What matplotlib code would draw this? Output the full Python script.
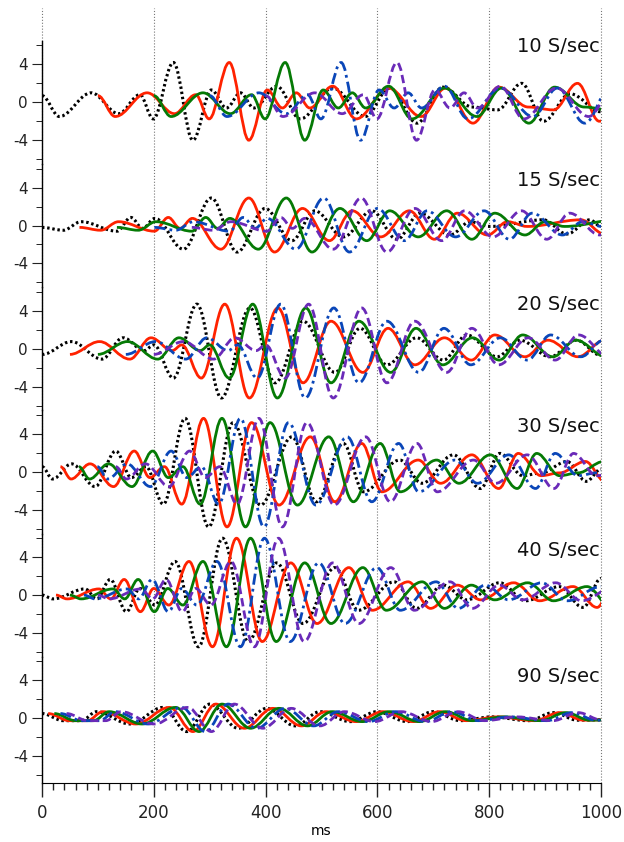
import matplotlib.pyplot as plt
from matplotlib.path import Path
from matplotlib.patches import PathPatch

plt.rcParams['axes.unicode_minus'] = False

# stacked panels, one per sample rate; each trace is the same wave delayed by one sample
labels = ['10 S/sec', '15 S/sec', '20 S/sec', '30 S/sec', '40 S/sec', '90 S/sec']
delays = [100, 67, 50, 33, 25, 11]   # ms between successive traces

# peaks / troughs of the first (black) trace
t10 = [0, 31, 88, 137, 175, 199, 235, 270, 303, 330, 355, 379, 420, 462, 520, 578, 622, 671, 717, 770, 815, 858, 897, 945, 1000]
v10 = [0.7, -1.5, 1.0, -1.2, 0.8, -1.75, 4.2, -4.0, 1.3, -0.6, 1.0, -0.6, 1.7, -1.75, 1.5, -1.5, 1.5, -2.2, 1.6, -0.5, -0.8, 2.0, -2.0, 0.9, -1.0]

t15 = [0, 38, 70, 134, 159, 180, 202, 253, 303, 349, 399, 447, 488, 539, 590, 635, 676, 730, 766, 801, 897, 939, 980, 1000]
v15 = [-0.2, -0.5, 0.4, -0.6, 0.85, -0.3, 0.75, -2.5, 2.9, -2.8, 1.8, -1.6, 1.55, -1.2, 1.55, -1.45, 1.3, -1.0, 0.4, -0.1, 0.6, -0.9, 0.6, -0.1]

t20 = [0, 53, 107, 145, 183, 200, 235, 277, 321, 372, 417, 467, 524, 569, 617, 670, 718, 760, 814, 855, 909, 956, 1000]
v20 = [-0.6, 0.75, -1.1, 1.15, -0.2, 0.4, -3.1, 4.7, -5.2, 4.3, -3.6, 2.9, -2.5, 2.15, -1.7, 1.15, -1.2, 1.45, -0.85, 0.9, -0.85, 0.9, -0.7]

t30 = [0, 19, 53, 95, 132, 160, 186, 217, 256, 298, 342, 391, 447, 491, 539, 575, 640, 680, 736, 784, 819, 860, 893, 939, 974, 1000]
v30 = [0.55, -0.75, 0.85, -1.55, 2.2, -0.6, 0.55, -3.4, 5.65, -5.8, 5.2, -3.5, 3.7, -3.15, 3.0, -2.1, 1.25, -1.2, 1.8, -1.75, 1.95, -0.4, -0.1, 1.1, -1.0, 0.3]

t40 = [0, 20, 77, 98, 122, 151, 175, 202, 238, 280, 323, 369, 420, 467, 524, 566, 630, 670, 718, 760, 819, 865, 925, 968, 1000]
v40 = [0, -0.4, 0.65, -0.4, 1.65, -1.75, 0.7, -1.05, 3.55, -5.45, 6.0, -4.9, 3.4, -3.0, 2.9, -1.6, 1.4, -1.4, 1.05, -0.5, 1.3, -0.6, 0.9, -1.3, 1.75]

t90 = [0, 38, 70, 98, 157, 217, 259, 300, 351, 402, 453, 497, 551, 599, 653, 700, 748, 805, 870, 915, 958, 1000]
v90 = [0.5, -0.25, -0.25, 0.7, -0.6, 1.15, -1.4, 1.5, -1.05, 1.05, -0.8, 0.7, -0.35, 0.7, -0.35, 0.7, -0.25, 0.15, -0.25, 0.6, -0.2, -0.15]

waves = [(t10, v10), (t15, v15), (t20, v20), (t30, v30), (t40, v40), (t90, v90)]

colors = ['black', '#ff2200', '#057a05', '#0a46b8', '#6a2ab8']
styles = [(0, (0.8, 0.9)), '-', '-', (0, (4, 1.5, 1, 1.5)), (0, (3, 1.5))]
widths = [2.2, 2.0, 2.0, 2.0, 2.0]


def wave_path(t, v, shift):
    # smooth curve through the extrema (flat at each peak/trough)
    verts = [(t[0] + shift, v[0])]
    codes = [Path.MOVETO]
    for i in range(len(t) - 1):
        a, b = t[i] + shift, t[i + 1] + shift
        h = (b - a) * 0.3634
        verts += [(a + h, v[i]), (b - h, v[i + 1]), (b, v[i + 1])]
        codes += [Path.CURVE4] * 3
    return Path(verts, codes)


W, H = 624, 842
fig = plt.figure(figsize=(W / 100, H / 100), dpi=100)
L = 42 / W
AW = (601 - 42) / W
y_axis = 782.7

# background axes: x axis and dotted grid
bg = fig.add_axes([L, 1 - y_axis / H, AW, (y_axis - 8) / H])
bg.set_xlim(0, 1000)
bg.set_ylim(0, 1)
bg.set_yticks([])
for s in ['top', 'right', 'left']:
    bg.spines[s].set_visible(False)
bg.set_xticks(range(0, 1001, 200))
bg.set_xticks(range(0, 1001, 20), minor=True)
bg.tick_params(axis='x', which='major', length=10, width=1, labelsize=12, colors='#222222', pad=5)
bg.tick_params(axis='x', which='minor', length=5, width=1, colors='#222222')
bg.grid(axis='x', which='major', linestyle=':', color='#777777', linewidth=0.8)
for g in bg.get_xgridlines():
    g.set_clip_on(False)
bg.set_xlabel('ms', fontsize=10, labelpad=2)

px_unit = 9.477
step = 123.2
label_y = [47, 180, 304, 427, 550, 676]

for i in range(6):
    top = 40.7 + i * step
    bot = top + step if i < 5 else y_axis
    ax = fig.add_axes([L, 1 - bot / H, AW, (bot - top) / H])
    ax.patch.set_visible(False)
    ax.set_xlim(0, 1000)
    ax.set_ylim(6.5 - (bot - top) / px_unit, 6.5)
    for s in ['top', 'right', 'bottom']:
        ax.spines[s].set_visible(False)
    ax.spines['left'].set_linewidth(1)
    ax.set_xticks([])
    ax.set_yticks([-4, 0, 4])
    ax.set_yticks([-6, -2, 2, 6], minor=True)
    ax.tick_params(axis='y', which='major', length=7, labelsize=11, colors='#222222', pad=3)
    ax.tick_params(axis='y', which='minor', length=4)

    t, v = waves[i]
    for k in range(5):
        p = PathPatch(wave_path(t, v, k * delays[i]), fill=False, edgecolor=colors[k],
                      linestyle=styles[k], linewidth=widths[k])
        ax.add_patch(p)

    fig.text(600 / W, 1 - label_y[i] / H, labels[i], ha='right', va='center', fontsize=14, color='#111111')

fig.savefig('out.png', dpi=100)
